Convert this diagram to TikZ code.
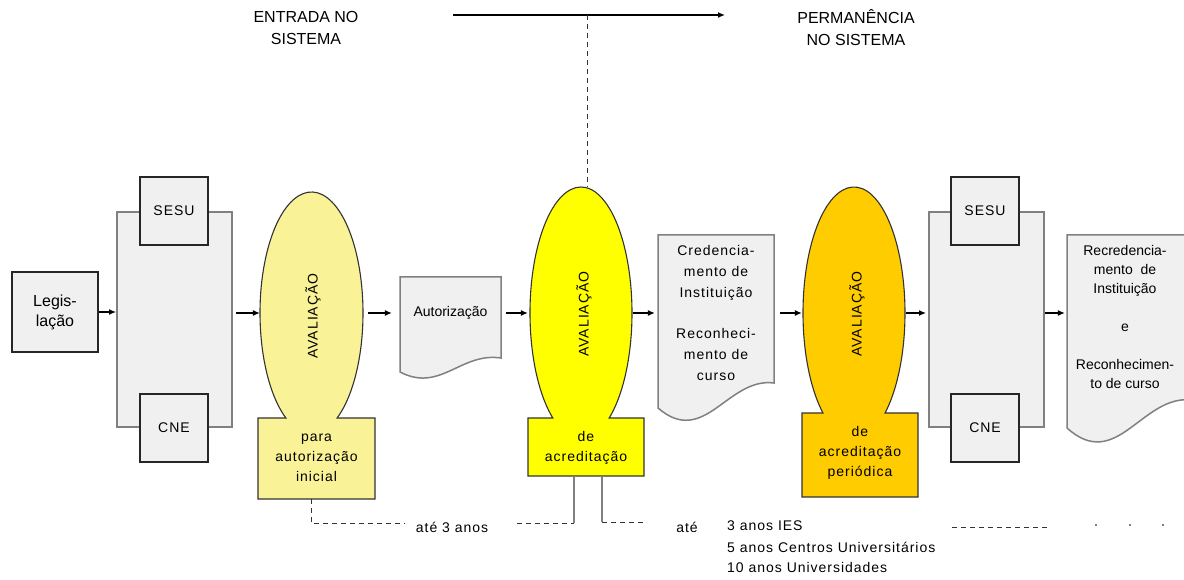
\documentclass[tikz,border=0pt]{standalone}
\usepackage{fontspec}
\setmainfont{Liberation Sans}
\newfontfamily\widefont[LetterSpace=7]{Liberation Sans}
\usetikzlibrary{arrows.meta,shapes.geometric}
\definecolor{avone}{RGB}{250,242,150}
\definecolor{avtwo}{RGB}{255,255,0}
\definecolor{avthree}{RGB}{255,204,0}
\definecolor{boxgray}{RGB}{240,240,240}
\definecolor{framegray}{RGB}{128,128,128}
% combined ellipse + rectangle: cx cy a b rectL rectR rectT rectB colour
\newcommand\AvShape[9]{%
 \pgfmathsetmacro\avT{asin((#2-#7)/#4)}%
 \pgfmathsetmacro\avA{180-\avT}%
 \pgfmathsetmacro\avX{#1+#3*cos(\avA)}%
 \pgfmathsetmacro\avY{-#2+#4*sin(\avA)}%
 \path[avshape,fill=#9] (#5,-#7) -- (\avX,\avY) arc[start angle=\avA, end angle=\avT, x radius=#3, y radius=#4] -- (#6,-#7) -- (#6,-#8) -- (#5,-#8) -- cycle;}
% document shape: L R T yleft yright dip
\newcommand\DocShape[6]{%
 \path[docshape] (#1,-#3) -- (#2,-#3) -- (#2,-#5) .. controls ({#1+0.6*(#2-#1)},{-(#5-6)}) and ({#1+0.4*(#2-#1)},{-(#4+#6)}) .. (#1,-#4) -- cycle;}
\begin{document}
\begin{tikzpicture}[x=1pt,y=1pt,
 arr/.style={line width=1.1pt, -{Latex[length=7pt,width=6pt]}},
 gbox/.style={draw=black!85, line width=1.2pt, fill=boxgray},
 frm/.style={draw=framegray, line width=2pt, fill=boxgray},
 docshape/.style={draw=black!50, line width=1.5pt, fill=boxgray},
 avshape/.style={draw=black!80, line width=1.1pt},
 dsh/.style={draw=black!80, line width=0.9pt, dash pattern=on 5pt off 4pt},
 gline/.style={draw=black!50, line width=1.2pt},
 txt/.style={font=\fontsize{14}{20}\selectfont, align=center, inner sep=0pt},
 wtxt/.style={font=\widefont\fontsize{14}{20}\selectfont, align=center, inner sep=0pt},
 hidden/.style={ellipse, inner sep=0pt},
]
\useasboundingbox (0,0) rectangle (1184,-580);
\fill[white] (0,0) rectangle (1184,-580);

% top
\node[txt, font=\fontsize{16}{22}\selectfont] (entrada) at (306,-28) {ENTRADA NO\\SISTEMA};
\node[txt, font=\fontsize{16}{22}\selectfont] (perm) at (856,-28) {PERMANÊNCIA\\NO SISTEMA};
\coordinate (tl) at (453,-15);
\coordinate (tr) at (725,-15);
\coordinate (tm) at (587,-15);

% left group
\node[gbox, txt, font=\fontsize{16}{20}\selectfont, minimum width=86pt, minimum height=80pt] (leg) at (55,-312) {Legis-\\lação};
\node[frm, minimum width=115pt, minimum height=215pt, inner sep=0pt] (fr1) at (174.5,-319.5) {};
\node[gbox, wtxt, minimum width=68pt, minimum height=68pt] (sesu1) at (174,-211) {SESU};
\node[gbox, wtxt, minimum width=68pt, minimum height=68pt] (cne1) at (174,-428) {CNE};

% evaluation 1
\AvShape{311.5}{313}{51.5}{121}{258}{375}{418}{499}{avone}
\node[hidden, minimum width=103pt, minimum height=242pt] (e1) at (311.5,-313) {};
\node[wtxt, rotate=90] (t1) at (313,-316) {AVALIAÇÃO};
\node[wtxt] (r1) at (316.5,-458) {para\\autorização\\inicial};

% document 1
\DocShape{400}{501}{277}{372}{358}{21}
\node[txt, minimum width=101pt] (d1) at (450.5,-313) {Autorização};

% evaluation 2
\AvShape{581}{313}{51}{126}{528}{644}{418}{476}{avtwo}
\node[hidden, minimum width=102pt, minimum height=252pt] (e2) at (581,-313) {};
\node[wtxt, rotate=90] (t2) at (584,-314) {AVALIAÇÃO};
\node[wtxt] (r2) at (586,-448) {de\\acreditação};

% document 3
\DocShape{658}{774}{235}{408}{383}{40}
\node[wtxt, font=\widefont\fontsize{14}{20.7}\selectfont, minimum width=116pt] (d3) at (716,-313) {Credencia-\\mento de\\Instituição\\[20.7pt]Reconheci-\\mento de\\curso};

% evaluation 3
\AvShape{854}{313}{51}{126}{802}{918}{413}{497}{avthree}
\node[hidden, minimum width=102pt, minimum height=252pt] (e3) at (854,-313) {};
\node[wtxt, rotate=90] (t3) at (857,-314) {AVALIAÇÃO};
\node[wtxt] (r3) at (860,-453) {de\\acreditação\\periódica};

% right group
\node[frm, minimum width=115pt, minimum height=215pt, inner sep=0pt] (fr2) at (986.5,-319.5) {};
\node[gbox, wtxt, minimum width=68pt, minimum height=68pt] (sesu2) at (985,-211) {SESU};
\node[gbox, wtxt, minimum width=68pt, minimum height=68pt] (cne2) at (985,-428) {CNE};

% document 4
\DocShape{1067}{1192}{235}{428}{400}{45}
\node[txt, font=\fontsize{14}{19.1}\selectfont, minimum width=116pt] (d4) at (1125,-317) {Recredencia-\\mento\ \ de\\Instituição\\[19.1pt]e\\[19.1pt]Reconhecimen-\\to de curso};

% arrows
\draw[arr, line width=1.3pt] (tl) -- (tr);
\draw[dsh] (tm) -- (tm |- e2.north);
\draw[arr] (leg.east) -- (leg.east -| fr1.west);
\draw[arr, shorten <=3pt] (fr1.east |- e1.west) -- (e1.west);
\draw[arr, shorten <=5pt, shorten >=8pt] (e1.east) -- (e1.east -| d1.west);
\draw[arr, shorten <=5pt, shorten >=2pt] (d1.east) -- (d1.east -| e2.west);
\draw[arr, shorten <=1pt, shorten >=3pt] (e2.east) -- (e2.east -| d3.west);
\draw[arr, shorten <=6pt, shorten >=1pt] (d3.east) -- (d3.east -| e3.west);
\draw[arr, shorten <=1pt, shorten >=2pt] (e3.east) -- (e3.east -| fr2.west);
\draw[arr, shorten >=2pt] (fr2.east |- e3.east) -- (fr2.east |- e3.east -| d4.west);

% bottom timeline
\coordinate (b1) at (311,-499);
\coordinate (b1d) at (311,-523);
\coordinate (b1e) at (405,-523);
\node[wtxt] (ate1) at (452,-527) {até 3 anos};
\coordinate (b2s) at (517,-523);
\coordinate (v1t) at (574,-476);
\coordinate (v1b) at (574,-523);
\coordinate (v2t) at (602,-476);
\coordinate (v2b) at (602,-522);
\coordinate (b3e) at (645,-522);
\node[wtxt] (ate2) at (687,-527) {até};
\node[wtxt, anchor=west, align=left] (anos1) at (727,-526) {3 anos IES};
\node[wtxt, anchor=west, align=left] (anos2) at (727,-547) {5 anos Centros Universitários};
\node[wtxt, anchor=west, align=left] (anos3) at (727,-567) {10 anos Universidades};
\coordinate (b4s) at (952,-527);
\coordinate (b4e) at (1047,-527);
\draw[dsh] (b1) -- (b1d) -- (b1e);
\draw[dsh] (b2s) -- (v1b);
\draw[gline] (v1t) -- (v1b);
\draw[gline] (v2t) -- (v2b);
\draw[dsh] (v2b) -- (b3e);
\draw[dsh] (b4s) -- (b4e);
\foreach \dx/\nm in {1096/p1,1130/p2,1163/p3}{
  \node[fill=black!50, inner sep=0pt, minimum size=2.2pt] (\nm) at (\dx,-525) {};
}
\end{tikzpicture}
\end{document}
